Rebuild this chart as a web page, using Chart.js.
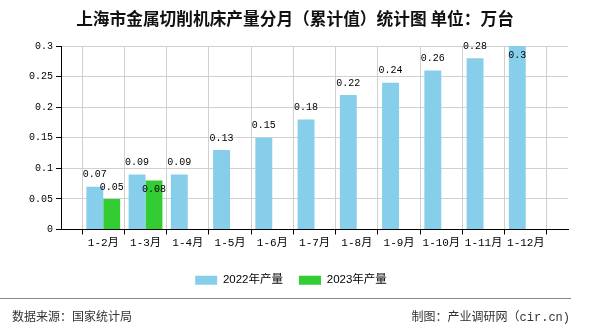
<!DOCTYPE html>
<html><head><meta charset="utf-8">
<script src="https://cdn.jsdelivr.net/npm/chart.js@4.4.0/dist/chart.umd.min.js"></script>
<style>
html,body{margin:0;padding:0;background:#fff;}
#wrap{position:relative;width:590px;height:330px;overflow:hidden;}
#c{position:absolute;left:0;top:0;}
#title{position:absolute;left:0;top:6px;width:590px;text-align:center;font:bold 16.7px "Noto Sans CJK SC",sans-serif;color:#111;}
#sep{position:absolute;left:0;top:298px;width:571px;height:1px;background:#888;}
#src{position:absolute;left:12px;top:307px;font:12px "Liberation Mono","Noto Sans CJK SC",sans-serif;color:#333;}
#mk{position:absolute;right:20px;top:307px;font:12px "Liberation Mono","Noto Sans CJK SC",sans-serif;color:#333;}
</style></head>
<body><div id="wrap">
<canvas id="c" width="590" height="330"></canvas>
<div id="title">上海市金属切削机床产量分月（累计值）统计图 单位：万台</div>
<div id="sep"></div>
<div id="src">数据来源：国家统计局</div>
<div id="mk">制图：产业调研网（cir.cn)</div>
</div>
<script>
const categories = ['', '1-2月', '1-3月', '1-4月', '1-5月', '1-6月', '1-7月', '1-8月', '1-9月', '1-10月', '1-11月', '1-12月', ''];
const series2022 = [null, 0.07, 0.09, 0.09, 0.13, 0.15, 0.18, 0.22, 0.24, 0.26, 0.28, 0.3, null];
const series2023 = [null, 0.05, 0.08, null, null, null, null, null, null, null, null, null, null];
const seriesNames = ['2022年产量', '2023年产量'];
const yTicks = [0, 0.05, 0.1, 0.15, 0.2, 0.25, 0.3];

const labelPlugin = {
  id: 'valueLabels',
  afterLayout(chart) {
    if (chart.legend) { chart.legend.left += 14; }
  },
  afterDatasetsDraw(chart) {
    const ctx = chart.ctx;
    const area = chart.chartArea;
    const placed = [];
    ctx.save();
    ctx.font = '10px "Liberation Mono", monospace';
    ctx.fillStyle = '#000';
    ctx.textAlign = 'center';
    ctx.textBaseline = 'middle';
    chart.data.datasets.forEach((ds, di) => {
      const meta = chart.getDatasetMeta(di);
      meta.data.forEach((el, i) => {
        const v = ds.data[i];
        if (v === null || v === undefined) return;
        const txt = String(v);
        const w = ctx.measureText(txt).width;
        let y = el.y - 12;
        const overlaps = (yy) => placed.some(r => Math.abs(r.x - el.x) < (r.w + w) / 2 && Math.abs(r.y - yy) < 10);
        if (y < area.top - 4 || overlaps(y)) y = el.y + 9;
        placed.push({x: el.x, y: y, w: w});
        ctx.fillText(txt, el.x, y);
      });
    });
    ctx.restore();
  }
};

new Chart(document.getElementById('c'), {
  type: 'bar',
  data: {
    labels: categories,
    datasets: [
      {label: seriesNames[0], data: series2022, backgroundColor: '#87CEEB', categoryPercentage: 0.8, barPercentage: 1},
      {label: seriesNames[1], data: series2023, backgroundColor: '#33CC33', categoryPercentage: 0.8, barPercentage: 1}
    ]
  },
  options: {
    responsive: false,
    animation: false,
    layout: {padding: {top: 46, right: 22, bottom: 34, left: 0}},
    plugins: {
      title: {display: false},
      tooltip: {enabled: false},
      legend: {
        position: 'bottom',
        labels: {boxWidth: 22, boxHeight: 9, padding: 16, color: '#000',
          font: {size: 11.5, family: '"Liberation Sans", "Noto Sans CJK SC", sans-serif'}}
      }
    },
    scales: {
      x: {
        offset: false,
        grid: {color: '#d0d0d0', tickColor: '#000', tickLength: 5, drawOnChartArea: true},
        border: {color: '#000', width: 1},
        ticks: {color: '#000', padding: 2, maxRotation: 0, autoSkip: false,
          font: {size: 11, family: '"Liberation Mono", "Noto Sans CJK SC", monospace'}},
        afterFit(s) { s.height = 29; }
      },
      y: {
        min: 0, max: 0.3,
        afterBuildTicks(s) { s.ticks = yTicks.map(v => ({value: v})); },
        grid: {color: '#d0d0d0', tickColor: '#000', tickLength: 5},
        border: {color: '#000', width: 1},
        ticks: {color: '#000', padding: 3,
          callback: (v) => String(v),
          font: {size: 10, family: '"Liberation Mono", monospace'}},
        afterFit(s) { s.width = 61; }
      }
    }
  },
  plugins: [labelPlugin]
});
</script>
</body></html>
